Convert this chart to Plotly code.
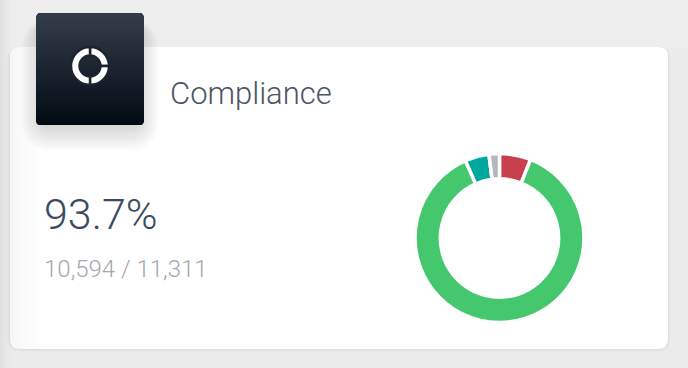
import math
import plotly.graph_objects as go

W, H = 688, 368
title = "Compliance"
big_value = "93.7%"
sub_value = "10,594 / 11,311"
categories = ["Failed", "Compliant", "Exempt", "Unknown"]
values = [6.0, 87.4, 4.6, 2.0]
colors = ["#c8404f", "#45c86d", "#00a79d", "#b4b8bd"]
icon_parts = [25, 25, 50]


def rr(x0, y0, x1, y1, r):
    return (f"M{x0+r},{y0} L{x1-r},{y0} Q{x1},{y0} {x1},{y0+r} L{x1},{y1-r} Q{x1},{y1} {x1-r},{y1} "
            f"L{x0+r},{y1} Q{x0},{y1} {x0},{y1-r} L{x0},{y0+r} Q{x0},{y0} {x0+r},{y0} Z")


def mix(a, b, t):
    return "rgb(" + ",".join(str(round(p + (q - p) * t)) for p, q in zip(a, b)) + ")"


shapes = []
def rect(x0, y0, x1, y1, color):
    shapes.append(dict(type="rect", xref="x", yref="y", x0=x0, y0=y0, x1=x1, y1=y1,
                       fillcolor=color, line_width=0, layer="below"))
def path(p, color):
    shapes.append(dict(type="path", xref="x", yref="y", path=p, fillcolor=color, line_width=0, layer="below"))

# page background
rect(0, 0, W, H, "#ececec")
for i in range(10):
    rect(i, 0, i + 1, H, mix((224, 224, 224), (236, 236, 236), i / 10))
rect(10, 0, W, 47, "#eeeeee")

# card shadow + card
for g, a in ((3, .012), (2, .018), (1, .025)):
    path(rr(10 - g, 47, 668 + g, 349 + g, 10 + g), f"rgba(0,0,0,{a})")
path(rr(10, 47, 668, 349, 10), "#ffffff")
for i in range(30):
    a = 0.035 * (1 - i / 30)
    inset = 10 - math.sqrt(100 - (10 - i) ** 2) if i < 10 else 0
    rect(10 + i, 47 + inset, 11 + i, 349 - inset, f"rgba(0,0,0,{a:.4f})")

# icon shadow
for g in range(26, 0, -2):
    path(rr(36 - g * .8 + 6, 13 + 14 - g * .3, 144 + g * .8 - 6, 125 + g * 1.0, 6 + g), "rgba(60,60,70,0.016)")

# icon gradient tile
top, bot = (53, 61, 75), (2, 10, 20)
for y in range(13, 125):
    t = (y - 13) / 111
    d = max(0, 3 - (y - 13), 3 - (124 - y))
    inset = {3: 2, 2: 1, 1: 0.4}.get(d, 0)
    rect(36 + inset, y, 144 - inset, y + 1.3 if y < 124 else y + 1, mix(top, bot, t))

layout = go.Layout(
    width=W, height=H, margin=dict(l=0, r=0, t=0, b=0),
    paper_bgcolor="#ececec", plot_bgcolor="#ececec", showlegend=False,
    xaxis=dict(range=[0, W], visible=False, fixedrange=True),
    yaxis=dict(range=[H, 0], visible=False, fixedrange=True),
    shapes=shapes,
    annotations=[
        dict(x=167.5, y=93, text=title, showarrow=False, xanchor="left", yanchor="middle", xref="x", yref="y",
             font=dict(family="Roboto", size=31, color="#4d5564", weight=300)),
        dict(x=41.5, y=214, text=big_value, showarrow=False, xanchor="left", yanchor="middle", xref="x", yref="y",
             font=dict(family="Roboto", size=43, color="#3b4a61", weight=300)),
        dict(x=41.5, y=269, text=sub_value, showarrow=False, xanchor="left", yanchor="middle", xref="x", yref="y",
             font=dict(family="Roboto", size=24, color="#a3a8ae", weight=300)),
    ],
)

fig = go.Figure(layout=layout)
fig.add_trace(go.Scatter(x=[0], y=[0], mode="markers", marker=dict(opacity=0), hoverinfo="skip"))

cx, cy, r = 499.5, 238, 84.5
fig.add_trace(go.Pie(
    labels=categories, values=values, sort=False, direction="clockwise", rotation=0,
    hole=0.70, textinfo="none", hoverinfo="label+percent",
    marker=dict(colors=colors, line=dict(color="#ffffff", width=3.5)),
    domain=dict(x=[(cx - r) / W, (cx + r) / W], y=[1 - (cy + r) / H, 1 - (cy - r) / H]),
))
ix, iy, ir = 90, 66, 19
fig.add_trace(go.Pie(
    values=icon_parts, sort=False, direction="clockwise", rotation=0,
    hole=0.55, textinfo="none", hoverinfo="skip",
    marker=dict(colors=["#ffffff"] * 3, line=dict(color="#1a2330", width=2.5)),
    domain=dict(x=[(ix - ir) / W, (ix + ir) / W], y=[1 - (iy + ir) / H, 1 - (iy - ir) / H]),
))

fig.write_html("out.html", config=dict(displayModeBar=False),
               post_script="document.body.style.margin='0';document.body.style.overflow='hidden';")
